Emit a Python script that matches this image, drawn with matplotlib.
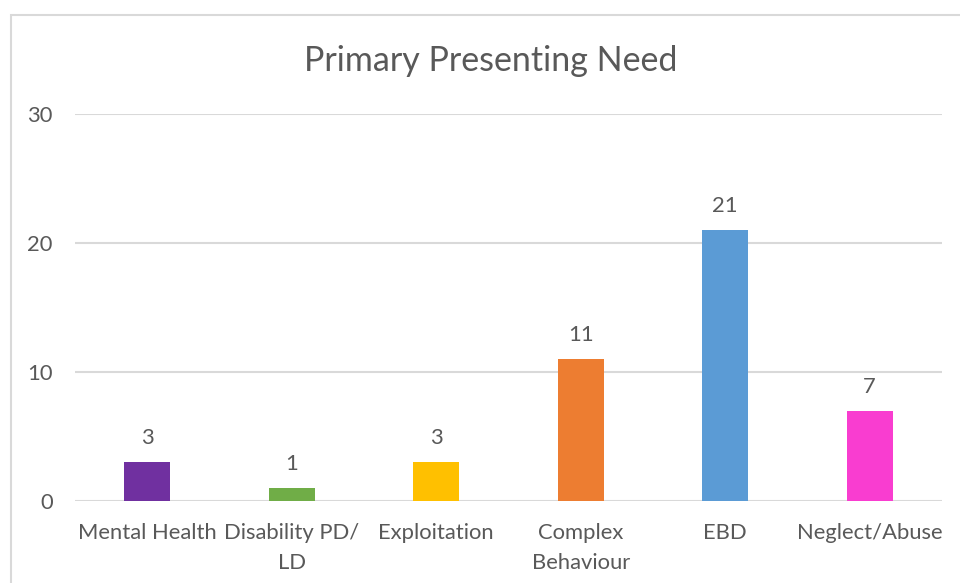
import matplotlib
matplotlib.use("Agg")
import matplotlib.pyplot as plt
from matplotlib.patches import Rectangle

# chart data
categories = ["Mental Health", "Disability PD/\nLD", "Exploitation",
              "Complex\nBehaviour", "EBD", "Neglect/Abuse"]
counts = [3, 1, 3, 11, 21, 7]
colors = ["#7030A0", "#70AD47", "#FFC000", "#ED7D31", "#5B9BD5", "#F93DD0"]
yticks = [0, 10, 20, 30]

text_col = "#595959"
plt.rcParams['font.family'] = ['Lato', 'DejaVu Sans']
fs = 15.8

fig = plt.figure(figsize=(9.6, 5.83), dpi=100)
ax = fig.add_axes([75 / 960, 1 - 501 / 583, 867 / 960, 387 / 583])

x = list(range(len(categories)))
bars = ax.bar(x, counts, width=0.32, color=colors, zorder=3)
for b, v in zip(bars, counts):
    ax.annotate(str(v), (b.get_x() + b.get_width() / 2, v),
                xytext=(0, 10), textcoords="offset points",
                ha="center", va="bottom", fontsize=fs, color=text_col)

ax.set_xlim(-0.5, len(categories) - 0.5)
ax.set_ylim(0, 30)
ax.set_yticks(yticks)
ax.set_xticks(x)
ax.set_xticklabels(categories, fontsize=fs, color=text_col, linespacing=1.6)
ax.tick_params(axis="y", length=0, pad=16, labelsize=fs, labelcolor=text_col)
ax.tick_params(axis="x", length=0, pad=16)
ax.grid(axis="y", color="#d9d9d9", linewidth=1.5, zorder=0)
for s in ax.spines.values():
    s.set_visible(False)

fig.text(491 / 960, 1 - 61 / 583, "Primary Presenting Need", ha="center",
         va="center", fontsize=24.5, color=text_col)

# chart border (right and bottom edges fall outside the crop)
fig.patches.append(Rectangle((11 / 960, -0.05), 1.0, 1 - 15 / 583 + 0.05,
                             transform=fig.transFigure, fill=False,
                             edgecolor="#d9d9d9", linewidth=1.5))

fig.savefig("out.png", dpi=100)
